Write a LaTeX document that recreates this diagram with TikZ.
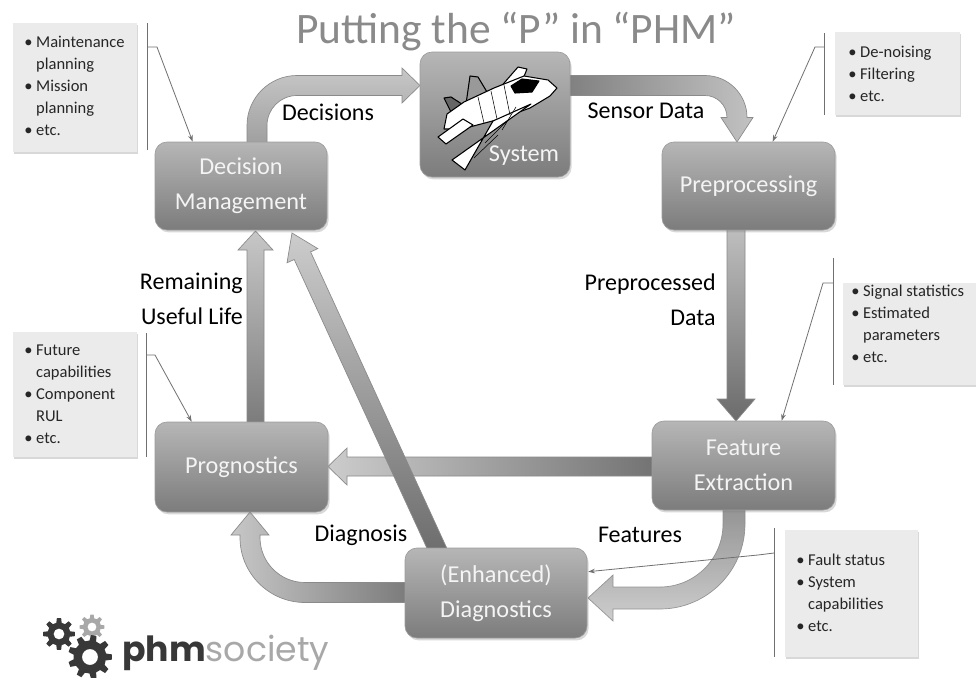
\documentclass[tikz,border=0pt]{standalone}
\usepackage{fontspec}
\setmainfont{Carlito}
\newfontfamily\logofont{Poppins}
\usetikzlibrary{calc,shadows,arrows.meta}

\definecolor{boxtop}{HTML}{B6B6B6}
\definecolor{boxbot}{HTML}{7C7C7C}
\definecolor{boxline}{HTML}{9C9C9C}
\definecolor{boxtext}{HTML}{F4F4F4}
\definecolor{arrline}{HTML}{8A8A8A}
\definecolor{calloutfill}{HTML}{EBEBEB}
\definecolor{callline}{HTML}{707070}
\definecolor{titlegray}{HTML}{8A8A8A}
\definecolor{logodark}{HTML}{383838}
\definecolor{logolight}{HTML}{A8A8A8}

% bullet list helpers for the note boxes
\newcommand\itm{\textbullet\hspace{0.22em}}
\newcommand\cnt{\hphantom{\textbullet\hspace{0.22em}}}

% gear: #1 centre, #2 teeth, #3 outer radius, #4 root radius, #5 hole radius, #6 colour
\newcommand\drawgear[6]{%
  \fill[#6, even odd rule, shift={#1}] (0:#4)
    \foreach \k in {1,...,#2} {
      -- ({\k*360/#2-0.30*360/#2}:#4)
      -- ({\k*360/#2-0.17*360/#2}:#3)
      -- ({\k*360/#2+0.17*360/#2}:#3)
      -- ({\k*360/#2+0.30*360/#2}:#4)
    } -- cycle (0,0) circle[radius=#5];}

\begin{document}
\begin{tikzpicture}[x=0.75pt,y=-0.75pt,
  stagebox/.style={rectangle, rounded corners=9pt, draw=boxline, line width=0.5pt,
    top color=boxtop, bottom color=boxbot, text=boxtext,
    font=\fontsize{18.2}{26}\selectfont, align=center, inner sep=0pt,
    drop shadow={shadow xshift=1.2pt, shadow yshift=-1.8pt, opacity=0.3}},
  callout/.style={rectangle, fill=calloutfill, inner sep=0pt,
    drop shadow={shadow xshift=0.6pt, shadow yshift=-1.5pt, opacity=0.3}},
  calltext/.style={anchor=north west, inner sep=0pt, align=left, text=black!85,
    font=\fontsize{12.4}{16.5}\selectfont},
  bracket/.style={draw=callline, line width=0.6pt},
  pointer/.style={draw=callline, line width=0.6pt, -{Stealth[length=5pt,width=3.5pt]}},
  fatarrow/.style={draw=arrline, line width=0.5pt},
  lbl/.style={text=black, font=\fontsize{18}{26}\selectfont, inner sep=0pt, align=right},
]
\useasboundingbox (0,0) rectangle (976,678);
\fill[white] (0,0) rectangle (976,678);

% ---------- title ----------
\node[text=titlegray, font=\fontsize{32.6}{38}\selectfont, inner sep=0pt] (title) at (516,32) {Putting the “P” in “PHM”};

% ---------- note boxes ----------
\node[callout, minimum width=93pt, minimum height=96.75pt] (n1) at (75,87.5) {};
\node[callout, minimum width=93.75pt, minimum height=62.25pt] (n2) at (897.5,73.5) {};
\node[callout, minimum width=99.75pt, minimum height=76.5pt] (n3) at (909.5,334) {};
\node[callout, minimum width=93pt, minimum height=93.75pt] (n4) at (75,394.5) {};
\node[callout, minimum width=99.75pt, minimum height=95.25pt] (n5) at (851.5,593.5) {};

\node[calltext] (t1) at (24,36) {\itm Maintenance\\\cnt planning\\\itm Mission\\\cnt planning\\\itm etc.};
\node[calltext] (t2) at (848,46) {\itm De-noising\\\itm Filtering\\\itm etc.};
\node[calltext] (t3) at (851,285) {\itm Signal statistics\\\itm Estimated\\\cnt parameters\\\itm etc.};
\node[calltext] (t4) at (24,345) {\itm Future\\\cnt capabilities\\\itm Component\\\cnt RUL\\\itm etc.};
\node[calltext] (t5) at (796,554) {\itm Fault status\\\itm System\\\cnt capabilities\\\itm etc.};

% ---------- block arrows ----------
% decisions: management -> system
\shade[fatarrow, top color=black!22, bottom color=black!38]
  (247,146) -- (247,125.5) .. controls (247,97.9) and (269.4,75.5) .. (297,75.5)
  -- (402,75.5) -- (402,68) -- (420,85.5) -- (402,103) -- (402,95.5) -- (297,95.5)
  .. controls (280.4,95.5) and (267,108.9) .. (267,125.5) -- (267,146) -- cycle;
% sensor data: system -> preprocessing
\shade[fatarrow, left color=black!50, right color=black!24]
  (566,75.5) -- (705,75.5) .. controls (728.2,75.5) and (747,94.3) .. (747,117.5)
  -- (753,117.5) -- (737,142) -- (721,117.5) -- (727,117.5)
  .. controls (727,105.3) and (717.2,95.5) .. (705,95.5) -- (566,95.5) -- cycle;
% preprocessed data: preprocessing -> feature extraction
\shade[fatarrow, top color=black!25, bottom color=black!58]
  (727,226) -- (727,399) -- (717,399) -- (736,421) -- (755,399) -- (745,399) -- (745,226) -- cycle;
% feature extraction -> prognostics
\shade[fatarrow, left color=black!20, right color=black!55]
  (656,457) -- (347,457) -- (347,448) -- (328,466.5) -- (347,485) -- (347,476) -- (656,476) -- cycle;
% remaining useful life: prognostics -> management
\shade[fatarrow, top color=black!22, bottom color=black!52]
  (247,426) -- (247,250) -- (238,250) -- (255.5,231) -- (273,250) -- (264,250) -- (264,426) -- cycle;
% diagnosis: diagnostics -> prognostics
\shade[fatarrow, left color=black!22, right color=black!52]
  (409,582.5) -- (305,582.5) .. controls (280.1,582.5) and (260,562.4) .. (260,537.5)
  -- (260,535) -- (269,535) -- (250,512) -- (231,535) -- (240,535) -- (240,537.5)
  .. controls (240,573.4) and (269.1,602.5) .. (305,602.5) -- (409,602.5) -- cycle;
% diagnosis: diagnostics -> management (diagonal)
\shade[fatarrow, top color=black!20, bottom color=black!58]
  (431.8,558.8) -- (294.2,259.5) -- (287.0,262.8) -- (292,233) -- (317.8,248.6)
  -- (310.6,251.9) -- (448.2,551.2) -- cycle;
% features: feature extraction -> diagnostics
\shade[fatarrow, top color=black!48, bottom color=black!22, opacity=0.88]
  (723,506) -- (723,524) .. controls (723,558.8) and (694.8,587) .. (660,587)
  -- (613,587) -- (613,575) -- (588,598) -- (613,621) -- (613,609) -- (660,609)
  .. controls (706.9,609) and (745,570.9) .. (745,524) -- (745,506) -- cycle;

% ---------- stages ----------
\node[stagebox, minimum width=129pt, minimum height=66pt] (dm) at (241,186) {Decision\\Management};
\node[stagebox, minimum width=112.5pt, minimum height=93.75pt] (sys) at (495,114.5) {};
\node[stagebox, minimum width=129.75pt, minimum height=66pt] (pre) at (748.5,186) {Preprocessing};
\node[stagebox, minimum width=137.25pt, minimum height=66.75pt] (fe) at (743.5,465.5) {Feature\\Extraction};
\node[stagebox, minimum width=129.75pt, minimum height=67.5pt] (prog) at (241.5,467) {Prognostics};
\node[stagebox, minimum width=136.5pt, minimum height=67.5pt] (diag) at (496,593) {(Enhanced)\\Diagnostics};

% ---------- aircraft inside the system block ----------
\begin{scope}[line width=0.8pt, line join=round, draw=black]
  % far wing
  \filldraw[fill=white] (498,90) -- (518,67) -- (527,69) -- (517,94) -- cycle;
  % fins
  \filldraw[fill=black!40] (466,104) -- (470,76) -- (478,77) -- (490,97) -- cycle;
  \filldraw[fill=black!60] (452,114) -- (444,98) -- (451,97) -- (468,108) -- cycle;
  % fuselage
  \filldraw[fill=white] (557,88) -- (548,80) -- (524,76) -- (494,88) -- (464,102)
    -- (447,114) -- (444,129) -- (462,129) -- (500,119) -- (530,108) -- (550,96) -- cycle;
  % near wing
  \filldraw[fill=white] (531,104) -- (452,160) -- (465,170) -- (493,121) -- cycle;
  % tailplane
  \filldraw[fill=white] (463,119) -- (438,137) -- (446,144) -- (473,125) -- cycle;
  % canopy
  \filldraw[fill=black] (511,86) -- (522,79) -- (539,81) -- (532,92) -- (515,93) -- cycle;
  % panel lines
  \draw[line width=0.4pt] (478,97) -- (484,123) (491,91) -- (497,119) (504,85) -- (510,115)
    (516,107) -- (502,130) (509,119) -- (485,143) (498,135) -- (474,158);
\end{scope}
\node[text=boxtext, font=\fontsize{18.2}{26}\selectfont, inner sep=0pt] (systxt) at (524,156) {System};

% ---------- note pointers ----------
\draw[bracket] (147,23) -- (147,150);
\draw[bracket] (824,33) -- (824,115);
\draw[bracket] (833,258) -- (833,385);
\draw[bracket] (146,333) -- (146,457);
\draw[bracket] (774,528) -- (774,657);
\coordinate (p1) at (147,47);
\coordinate (p2) at (824,47);
\coordinate (p3) at (833,283);
\coordinate (p4) at (146,355);
\coordinate (p5) at (774,553);
\draw[pointer] (p1) -- ++(10,0) -- ($(dm.north west)+(38,0)$);
\draw[pointer] (p2) -- ++(-9,0) -- ($(pre.north west)+(111,0)$);
\draw[pointer] (p3) -- ++(-10,0) -- ($(fe.north west)+(130,0)$);
\draw[pointer] (p4) -- ++(9,0) -- ($(prog.north west)+(37,0)$);
\draw[pointer] (p5) -- ++(-16,2) -- ($(diag.north east)+(1,24)$);

% ---------- flow labels ----------
\node[lbl] (l1) at (328,112) {Decisions};
\node[lbl] (l2) at (646,111) {Sensor Data};
\node[lbl, anchor=east] (l3) at (716,300) {Preprocessed\\Data};
\node[lbl, anchor=east] (l4) at (243,299) {Remaining\\Useful Life};
\node[lbl] (l5) at (361,535) {Diagnosis};
\node[lbl] (l6) at (640,535) {Features};

% ---------- society logo ----------
\drawgear{(59,634)}{8}{16}{11.5}{5.5}{logodark}
\drawgear{(92,627)}{8}{12.5}{9}{4.5}{logolight}
\drawgear{(90,657)}{9}{22}{16.5}{8}{logodark}
\node[anchor=base west, inner sep=0pt, font=\logofont\fontsize{26}{30}\selectfont] (logo) at (122,661)
  {{\bfseries\color{logodark}phm}{\color{logolight}society}};
\end{tikzpicture}
\end{document}
